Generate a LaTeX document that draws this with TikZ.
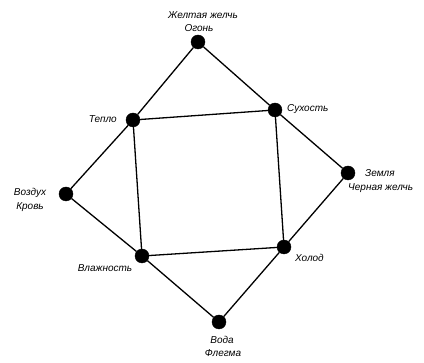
\documentclass[tikz,border=0pt]{standalone}
\usepackage{fontspec}
\setmainfont{Liberation Sans}
\begin{document}
\begin{tikzpicture}[x=1pt,y=-1pt,
  dot/.style={circle,fill=black,draw=black,inner sep=0pt,minimum size=14pt},
  conn/.style={line width=1.3pt},
  lbl/.style={font=\fontsize{10}{12}\selectfont\itshape, inner sep=0pt}]
\useasboundingbox (0,0) rectangle (424,363);
% points
\node[dot] (fire)  at (198,42) {};
\node[dot] (heat)  at (133,120) {};
\node[dot] (dry)   at (275,110) {};
\node[dot] (air)   at (66,194) {};
\node[dot] (earth) at (348,173) {};
\node[dot] (wet)   at (142,256) {};
\node[dot] (cold)  at (284,247) {};
\node[dot] (water) at (219,322) {};
% connectors
\begin{scope}[on background layer/.try]
\draw[conn] (fire) -- (heat) -- (air) -- (wet) -- (water) -- (cold) -- (earth) -- (dry) -- (fire);
\draw[conn] (heat) -- (dry) -- (cold) -- (wet) -- (heat);
\end{scope}
% labels
\node[lbl] (l1a) at (203,15) {Желтая желчь};
\node[lbl] (l1b) at (199,28) {Огонь};
\node[lbl,anchor=east] (l2) at (117,119) {Тепло};
\node[lbl,anchor=west] (l3) at (287,109) {Сухость};
\node[lbl] (l4a) at (30,193) {Воздух};
\node[lbl] (l4b) at (30,207) {Кровь};
\node[lbl,anchor=west] (l5a) at (365,173) {Земля};
\node[lbl,anchor=west] (l5b) at (348,188) {Черная желчь};
\node[lbl] (l6) at (105,268) {Влажность};
\node[lbl,anchor=west] (l7) at (295,258) {Холод};
\node[lbl] (l8a) at (222,340) {Вода};
\node[lbl] (l8b) at (223,353) {Флегма};
\end{tikzpicture}
\end{document}
